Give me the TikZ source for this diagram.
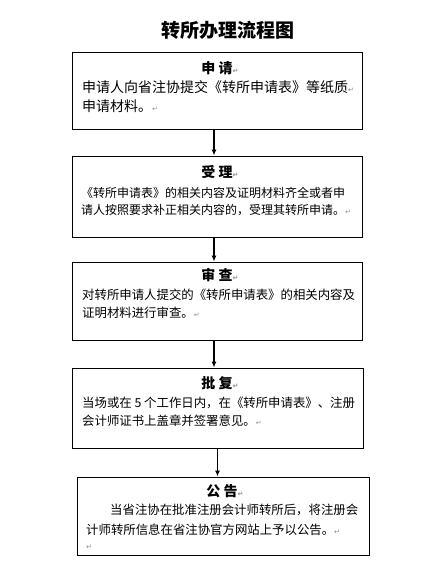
\documentclass[tikz,border=0pt]{standalone}
\usepackage{fontspec}
\newfontfamily\cjk{Noto Sans CJK SC}
\newfontfamily\markfont{DejaVu Sans}
\usetikzlibrary{arrows.meta}
\newcommand{\parmark}{{\markfont\color{black!45}\fontsize{7}{7}\selectfont ↵}}
\tikzset{
	kuang/.style={draw,line width=0.9pt,inner sep=0pt},
	biaoti/.style={inner sep=0pt,font=\cjk\bfseries\fontsize{14}{14}\selectfont},
	hang/.style={anchor=west,inner sep=0pt,font=\cjk\fontsize{12.4}{12.4}\selectfont},
	jian/.style={line width=1.2pt,-{Latex[length=6pt,width=5pt]}}
}

\begin{document}
\begin{tikzpicture}[x=1pt,y=-1pt]
			\useasboundingbox (0,0) rectangle (440,575);
			\node[inner sep=0pt,font=\cjk\bfseries\fontsize{19}{19}\selectfont] (tu) at (228,30) {转所办理流程图};
			\node[kuang,minimum width=290pt,minimum height=77pt] (shen) at (217,90.5) {};
			\node[kuang,minimum width=290pt,minimum height=81pt] (shou) at (217,196.5) {};
			\node[kuang,minimum width=290pt,minimum height=78pt] (cha) at (217,301) {};
			\node[kuang,minimum width=291pt,minimum height=80pt] (pi) at (217.5,408) {};
			\node[kuang,minimum width=292pt,minimum height=78pt] (gao) at (223,516) {};
			\draw[jian] ([xshift=-3pt]shen.south) -- ([xshift=-3pt]shen.south |- shou.north);
			\draw[jian] ([xshift=-3pt]shou.south) -- ([xshift=-3pt]shou.south |- cha.north);
			\draw[jian] ([xshift=-3pt]cha.south) -- ([xshift=-3pt]cha.south |- pi.north);
			\draw[jian] (pi.south) -- (pi.south |- gao.north);
				\node[biaoti] (shen0) at (217,68) {申 请\rlap{\parmark}};
				\node[hang,font=\cjk\fontsize{14}{14}\selectfont] (shen1) at (82,87) {申请人向省注协提交《转所申请表》等纸质\parmark};
				\node[hang,font=\cjk\fontsize{14}{14}\selectfont] (shen2) at (82,106) {申请材料。\parmark};
				\node[biaoti] (shou0) at (217,172) {受 理\rlap{\parmark}};
				\node[hang,font=\cjk\fontsize{12}{12}\selectfont] (shou1) at (81,193) {《转所申请表》的相关内容及证明材料齐全或者申};
				\node[hang,font=\cjk\fontsize{12}{12}\selectfont] (shou2) at (81,210) {请人按照要求补正相关内容的，受理其转所申请。\parmark};
				\node[biaoti] (cha0) at (217,275) {审 查\rlap{\parmark}};
				\node[hang] (cha1) at (82,295) {对转所申请人提交的《转所申请表》的相关内容及};
				\node[hang] (cha2) at (82,313) {证明材料进行审查。\parmark};
				\node[biaoti] (pi0) at (217,383) {批 复\rlap{\parmark}};
				\node[hang] (pi1) at (82,403) {当场或在 5 个工作日内，在《转所申请表》、注册};
				\node[hang] (pi2) at (82,421) {会计师证书上盖章并签署意见。\parmark};
				\node[biaoti] (gao0) at (222,491) {公 告\rlap{\parmark}};
				\node[hang] (gao1) at (110,510) {当省注协在批准注册会计师转所后，将注册会};
				\node[hang] (gao2) at (86,530) {计师转所信息在省注协官方网站上予以公告。\parmark};
				\node[hang] (gao3) at (86,547) {\parmark};
		\end{tikzpicture}
\end{document}
